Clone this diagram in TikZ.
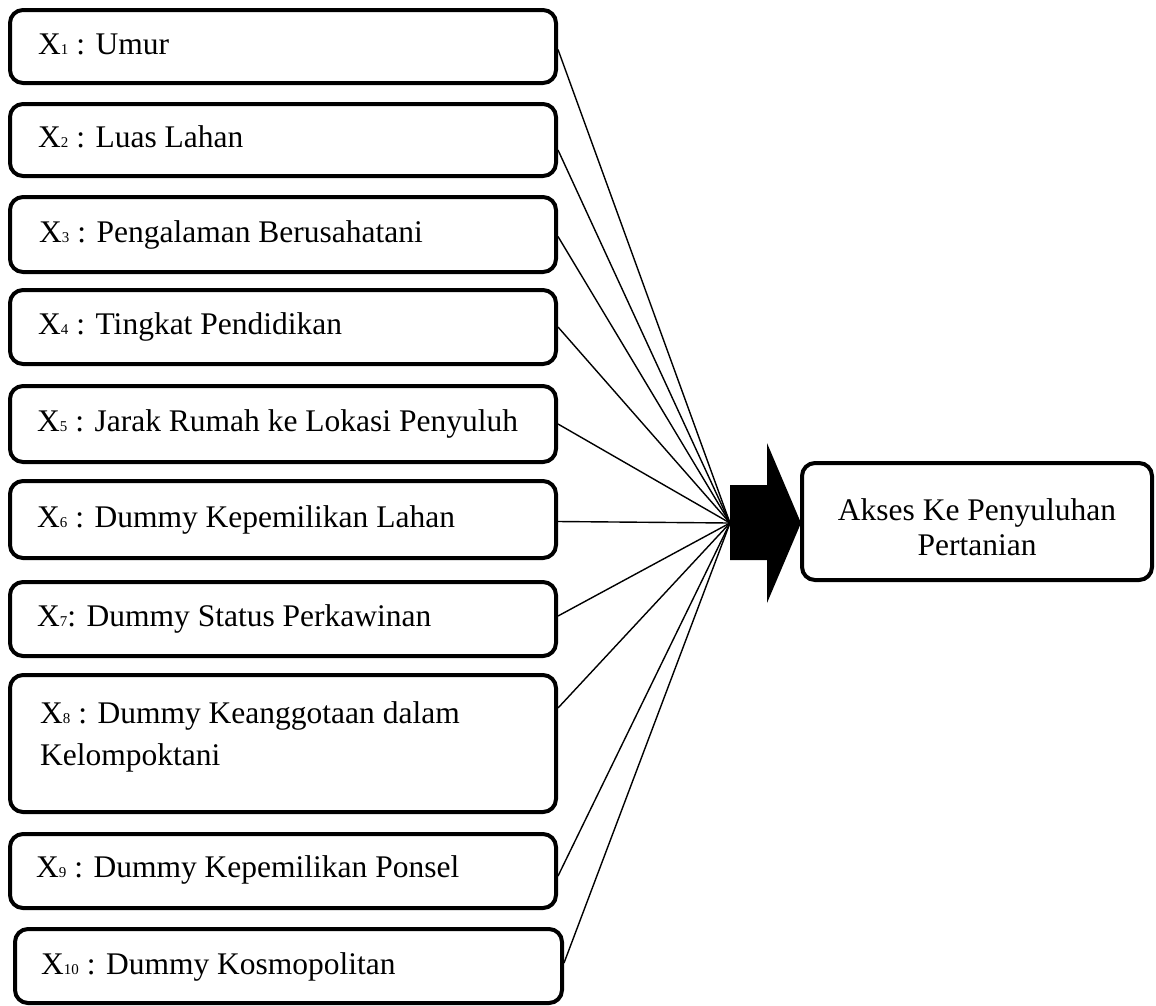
\documentclass[tikz,border=0pt]{standalone}
\usepackage{fontspec}
\setmainfont{Liberation Serif}
\newcommand\subdig[1]{{\fontsize{15}{15}\selectfont #1}}
\begin{document}
\begin{tikzpicture}[x=1pt,y=-1pt,
  box/.style={draw, line width=4pt, rounded corners=13pt, minimum width=546pt, inner sep=0pt},
  lbl/.style={anchor=base west, inner sep=0pt, font=\fontsize{31.5}{42}\selectfont},
  link/.style={line width=1.4pt}]
\useasboundingbox (0,0) rectangle (1156,1005);
% input boxes
\node[box, minimum height=73pt] (b1) at (283,46.5) {};
\node[box, minimum height=72pt] (b2) at (283,140) {};
\node[box, minimum height=75pt] (b3) at (283,234.5) {};
\node[box, minimum height=74pt] (b4) at (283,327) {};
\node[box, minimum height=76pt] (b5) at (283,424) {};
\node[box, minimum height=77pt] (b6) at (283,519.5) {};
\node[box, minimum height=74pt] (b7) at (283,619) {};
\node[box, minimum height=137pt] (b8) at (283,743.5) {};
\node[box, minimum height=74pt] (b9) at (283,871) {};
\node[box, minimum height=74pt, minimum width=547pt] (b10) at (288.5,966) {};
% labels
\node[lbl] (t1) at (38,54) {X\subdig{1} : Umur};
\node[lbl] (t2) at (38,147.5) {X\subdig{2} : Luas Lahan};
\node[lbl] (t3) at (39,242) {X\subdig{3} : Pengalaman Berusahatani};
\node[lbl] (t4) at (38,334.5) {X\subdig{4} : Tingkat Pendidikan};
\node[lbl] (t5) at (37,431.5) {X\subdig{5} : Jarak Rumah ke Lokasi Penyuluh};
\node[lbl] (t6) at (37,527) {X\subdig{6} : Dummy Kepemilikan Lahan};
\node[lbl] (t7) at (37,626.5) {X\subdig{7}: Dummy Status Perkawinan};
\node[lbl] (t8) at (40,723) {\begin{tabular}[t]{@{}l@{}}X\subdig{8} : Dummy Keanggotaan dalam\\Kelompoktani\end{tabular}};
\node[lbl] (t9) at (36,877) {X\subdig{9} : Dummy Kepemilikan Ponsel};
\node[lbl] (t10) at (41,974) {X\subdig{10} : Dummy Kosmopolitan};
% convergence point
\coordinate (c) at (730,523);
\draw[link] ([yshift=-3pt]b1.east) -- (c);
\draw[link] ([yshift=-10pt]b2.east) -- (c);
\draw[link] ([yshift=-2pt]b3.east) -- (c);
\draw[link] (b4.east) -- (c);
\draw[link] (b5.east) -- (c);
\draw[link] ([yshift=-2pt]b6.east) -- (c);
\draw[link] ([yshift=3pt]b7.east) -- (c);
\draw[link] ([yshift=-35pt]b8.north east) -- (c);
\draw[link] ([yshift=-5pt]b9.east) -- (c);
\draw[link] ([yshift=3pt]b10.east) -- (c);
% block arrow
\fill (730,485) -- (767,485) -- (767,443) -- (801,523) -- (767,603) -- (767,560) -- (730,560) -- cycle;
% output box
\node[draw, line width=4pt, rounded corners=13pt, minimum width=350pt, minimum height=117pt, inner sep=0pt] (y) at (977,521.5) {};
\node[anchor=base, inner sep=0pt, font=\fontsize{31.5}{35}\selectfont] (ty) at (977,520) {\begin{tabular}[t]{@{}c@{}}Akses Ke Penyuluhan\\Pertanian\end{tabular}};
\end{tikzpicture}
\end{document}
